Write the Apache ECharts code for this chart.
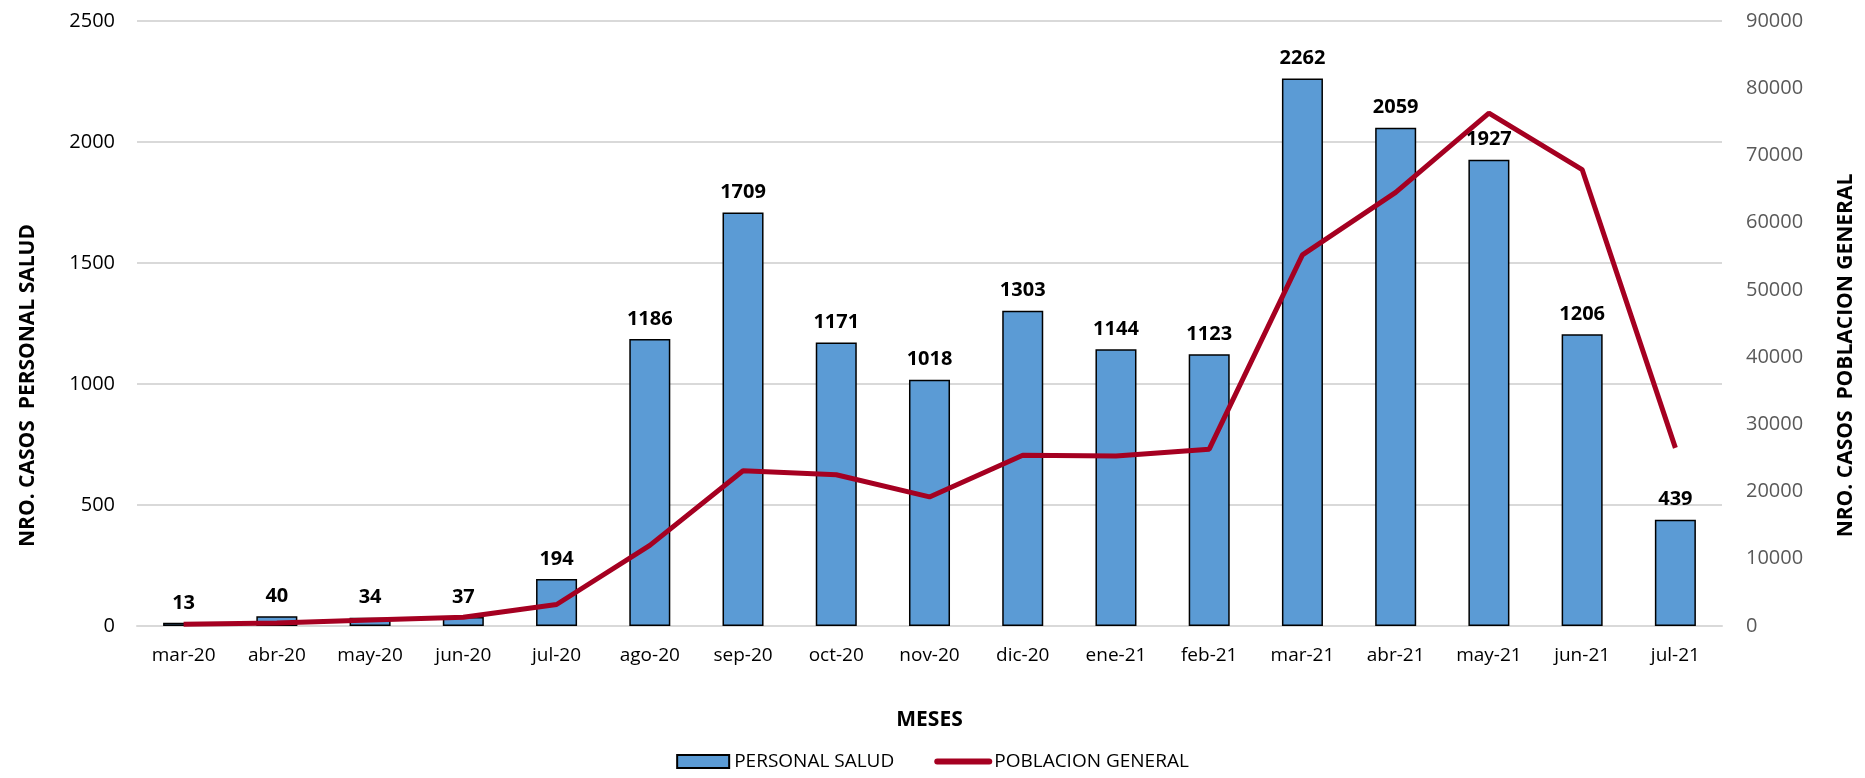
<!DOCTYPE html>
<html>
<head>
<meta charset="utf-8">
<title>Casos personal salud vs poblacion general</title>
<script src="https://cdn.jsdelivr.net/npm/echarts@6/dist/echarts.min.js"></script>
<style>
    html, body { margin: 0; padding: 0; background: #fff; }
    #chart { width: 1865px; height: 778px; }
</style>
</head>
<body>
<div id="chart"></div>
<script>
// meses (eje x)
const meses = ['mar-20', 'abr-20', 'may-20', 'jun-20', 'jul-20', 'ago-20', 'sep-20', 'oct-20', 'nov-20',
    'dic-20', 'ene-21', 'feb-21', 'mar-21', 'abr-21', 'may-21', 'jun-21', 'jul-21'];
// casos personal de salud (barras, eje izq.)
const personalSalud = [13, 40, 34, 37, 194, 1186, 1709, 1171, 1018, 1303, 1144, 1123, 2262, 2059, 1927, 1206, 439];
// casos poblacion general (linea, eje der.)
const poblacionGeneral = [250, 450, 900, 1300, 3200, 12000, 23100, 22500, 19200, 25400, 25300, 26300,
    55200, 64500, 76300, 67900, 26500];

const fuente = "'Open Sans', sans-serif";

const option = {
    animation: false,
    textStyle: { fontFamily: fuente },
    grid: {
        left: 137,
        right: 143,
        top: 21,
        bottom: 152
    },
    legend: {
        bottom: 2,
        left: 'center',
        itemWidth: 52,
        itemHeight: 13,
        itemGap: 40,
        textStyle: { fontSize: 19, color: '#000', fontFamily: fuente },
        data: [
            { name: 'PERSONAL SALUD', icon: 'rect' },
            {
                name: 'POBLACION GENERAL',
                itemStyle: { opacity: 0 },
                lineStyle: { width: 6, cap: 'round', color: '#a50021' }
            }
        ]
    },
    xAxis: {
        type: 'category',
        data: meses,
        name: 'MESES',
        nameLocation: 'middle',
        nameGap: 84,
        nameTextStyle: { fontSize: 21, fontWeight: 'bold', color: '#000' },
        axisLine: { lineStyle: { color: '#d9d9d9', width: 2 } },
        axisTick: { show: false },
        axisLabel: { fontSize: 19, color: '#000', margin: 20 }
    },
    yAxis: [
        {
            type: 'value',
            min: 0,
            max: 2500,
            interval: 500,
            name: 'NRO. CASOS  PERSONAL SALUD',
            nameLocation: 'middle',
            nameGap: 98,
            nameTextStyle: { fontSize: 21, fontWeight: 'bold', color: '#000', padding: [0, 124, 0, 0] },
            splitLine: { lineStyle: { color: '#d9d9d9', width: 2 } },
            axisLabel: {
                fontSize: 20,
                color: '#000',
                margin: 22,
                formatter: function (v) { return String(v); }
            }
        },
        {
            type: 'value',
            min: 0,
            max: 90000,
            interval: 10000,
            name: 'NRO. CASOS  POBLACION GENERAL',
            nameLocation: 'middle',
            nameGap: 114,
            nameTextStyle: { fontSize: 21, fontWeight: 'bold', color: '#000', padding: [0, 64, 0, 0] },
            splitLine: { show: false },
            axisLabel: {
                fontSize: 20,
                color: '#595959',
                margin: 24,
                formatter: function (v) { return String(v); }
            }
        }
    ],
    series: [
        {
            name: 'PERSONAL SALUD',
            type: 'bar',
            yAxisIndex: 0,
            barWidth: '44%',
            itemStyle: { color: '#5b9bd5', borderColor: '#000', borderWidth: 1.5 },
            label: {
                show: true,
                position: 'top',
                distance: 10,
                fontSize: 20,
                fontWeight: 'bold',
                color: '#000'
            },
            data: personalSalud
        },
        {
            name: 'POBLACION GENERAL',
            type: 'line',
            yAxisIndex: 1,
            symbol: 'none',
            z: 5,
            lineStyle: { color: '#a50021', width: 5 },
            itemStyle: { color: '#a50021' },
            data: poblacionGeneral
        }
    ]
};

const chart = echarts.init(document.getElementById('chart'));
chart.setOption(option);
window.addEventListener('resize', function () {
    chart.resize();
});
</script>
</body>
</html>
